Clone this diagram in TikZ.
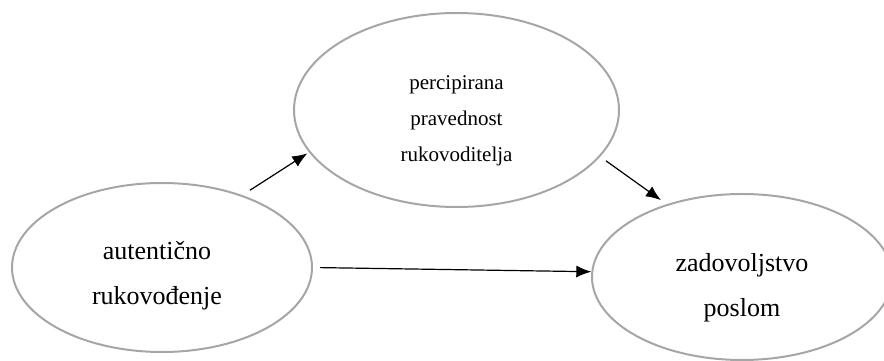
\documentclass[tikz,border=0pt]{standalone}
\usepackage{fontspec}
\setmainfont{Liberation Serif}
\usetikzlibrary{shapes, arrows.meta}

\begin{document}
\begin{tikzpicture}[x=1pt, y=1pt,
	oval/.style={draw=black!35, line width=2pt, ellipse, inner sep=0pt},
	big/.style={align=center, inner sep=0pt, font=\fontsize{26}{45}\selectfont},
	small/.style={align=center, inner sep=0pt, font=\fontsize{21}{36}\selectfont},
	link/.style={-{Latex[length=15pt, width=12pt]}, line width=1.2pt}]
	\useasboundingbox (0,0) rectangle (884,361);

	\node[oval, minimum width=300pt, minimum height=169pt] (autentic) at (162,93.5) {};
	\node[oval, minimum width=325pt, minimum height=194pt] (percip)   at (456.5,251) {};
	\node[oval, minimum width=300pt, minimum height=166pt] (zadov)    at (742,84) {};

	\node[big]   (autentictxt) at (157,85.5) {autentično\\rukovođenje};
	\node[small] (perciptxt)   at (456.5,240) {percipirana\\pravednost\\rukovoditelja};
	\node[big]   (zadovtxt)    at (742,73.5) {zadovoljstvo\\poslom};

	\draw[link, shorten <=9pt, shorten >=2pt] (autentic.42.7) -- (percip.196.1);
	\draw[link, shorten <=7pt, shorten >=7pt] (percip.-18) -- (zadov.136);
	\draw[link, shorten <=7pt] (autentic.east) -- (zadov.178);
\end{tikzpicture}
\end{document}
